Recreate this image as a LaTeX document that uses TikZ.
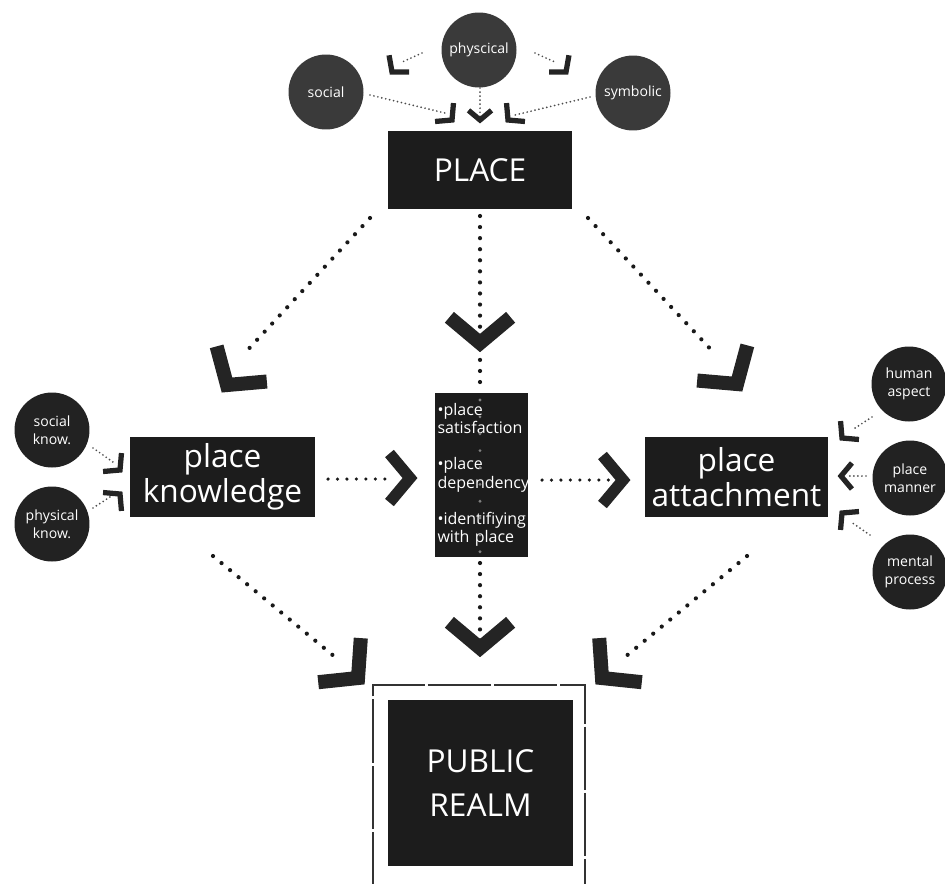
\documentclass[tikz,border=0pt]{standalone}
\usepackage{fontspec}
\setmainfont{Open Sans}
\usetikzlibrary{calc}
\definecolor{boxcol}{HTML}{1C1C1C}
\definecolor{topcirc}{HTML}{3A3A3A}
\definecolor{sidecirc}{HTML}{222222}
\definecolor{chevcol}{HTML}{242424}
\tikzset{
  panel/.style={fill=boxcol,text=white,inner sep=0pt,align=center,font=\fontsize{18}{20}\selectfont},
  bubble/.style={circle,fill=#1,text=white,minimum size=1.5cm,inner sep=0pt,align=center,font=\fontsize{8}{10}\selectfont},
  bigdots/.style={draw=black!90,line width=2.4pt,line cap=round,dash pattern=on 0pt off 6.3pt},
  meddots/.style={draw=black!90,line width=2pt,line cap=round,dash pattern=on 0pt off 5.4pt},
  greydots/.style={draw=black!50,line width=1.8pt,line cap=round,dash pattern=on 0pt off 9.6pt},
  finedots/.style={draw=black!70,line width=1.1pt,line cap=round,dash pattern=on 0pt off 2.3pt},
  chevbig/.style={draw=chevcol,line width=8pt,line join=miter},
  chevmed/.style={draw=chevcol,line width=6.5pt,line join=miter},
  chevsmall/.style={draw=chevcol,line width=3pt,line join=miter}
}
% chevron: tip, direction (y down), arm length
\newcommand{\chev}[4][chevbig]{\draw[#1] ($(#2)+(#3+130:#4)$) -- (#2) -- ($(#2)+(#3-130:#4)$);}

\begin{document}
\begin{tikzpicture}[x=0.02cm,y=-0.02cm]
	\useasboundingbox (0,0) rectangle (945,883);
	\clip (0,0) rectangle (945,883);
	% circles
	\node[bubble=topcirc] (phys) at (479,50) {physcical};
	\node[bubble=topcirc] (social) at (326,92) {social};
	\node[bubble=topcirc] (symb) at (633,93) {symbolic};
	\node[bubble=sidecirc] (sknow) at (52,430) {social\\know.};
	\node[bubble=sidecirc] (pknow) at (52,524) {physical\\know.};
	\node[bubble=sidecirc] (human) at (909,384) {human\\aspect};
	\node[bubble=sidecirc] (manner) at (910,478) {place\\manner};
	\node[bubble=sidecirc] (mental) at (910,572) {mental\\process};
	% boxes
	\node[panel,minimum width=3.7cm,minimum height=1.56cm] (place) at (480,170) {PLACE};
	\node[panel,minimum width=3.7cm,minimum height=1.6cm] (know) at (222.5,477) {place\\knowledge};
	\node[panel,minimum width=3.66cm,minimum height=1.6cm] (attach) at (736.5,477) {place\\attachment};
	\node[panel,minimum width=1.86cm,minimum height=3.28cm,text width=1.76cm,align=left,
		font=\fontsize{9.1}{10.5}\selectfont] (mid) at (481.5,475)
		{•place\\satisfaction\\[10pt]•place\\dependency\\[10pt]•identifiying\\with place};
	\node[panel,minimum width=3.7cm,minimum height=3.32cm,font=\fontsize{18}{25}\selectfont] (realm) at (480.5,783) {PUBLIC\\REALM};
	\draw[black!80,line width=0.8pt,dash pattern=on 36pt off 1.7pt] (373,895) -- (373,685) -- (585,685) -- (585,895);
	% line ends
	\coordinate (pk1) at (370,218); \coordinate (pk2) at (243,355); \coordinate (tpk) at (227,385);
	\coordinate (pa1) at (588,218); \coordinate (pa2) at (716,355); \coordinate (tpa) at (737,384);
	\coordinate (pm1) at (480,216); \coordinate (pm2) at (480,390); \coordinate (tpm) at (480,343);
	\coordinate (pm3) at (480,400); \coordinate (pm4) at (480,552);
	\coordinate (mr1) at (480,563); \coordinate (mr2) at (480,650); \coordinate (tmr) at (480,648);
	\coordinate (kr1) at (213,556); \coordinate (kr2) at (335,657); \coordinate (tkr) at (358,678);
	\coordinate (ar1) at (747,556); \coordinate (ar2) at (625,657); \coordinate (tar) at (602,678);
	\coordinate (km1) at (328,479); \coordinate (km2) at (392,479); \coordinate (tkm) at (410,478);
	\coordinate (ma1) at (542,480); \coordinate (ma2) at (610,480); \coordinate (tma) at (623,480);
	% main dotted lines
	\draw[bigdots] (pk1) -- (pk2);
	\draw[bigdots] (pa1) -- (pa2);
	\draw[bigdots] (pm1) -- (pm2);
	\draw[greydots] (pm3) -- (pm4);
	\draw[bigdots] (mr1) -- (mr2);
	\draw[bigdots] (kr1) -- (kr2);
	\draw[bigdots] (ar1) -- (ar2);
	\draw[meddots] (km1) -- (km2);
	\draw[meddots] (ma1) -- (ma2);
	\chev{tpk}{125}{40}
	\chev{tpa}{55}{40}
	\chev{tpm}{90}{40}
	\chev{tmr}{90}{40}
	\chev{tkr}{44}{40}
	\chev{tar}{136}{40}
	\chev[chevmed]{tkm}{0}{32}
	\chev[chevmed]{tma}{0}{32}
	% small ones
	\coordinate (a1) at (422,53); \coordinate (a2) at (400,63); \coordinate (ta) at (392,72);
	\coordinate (b1) at (535,53); \coordinate (b2) at (557,63); \coordinate (tb) at (566,72);
	\coordinate (c1) at (370,95); \coordinate (c2) at (445,113); \coordinate (tc) at (452,120);
	\coordinate (d1) at (480,88); \coordinate (d2) at (480,117); \coordinate (td) at (480,120);
	\coordinate (e1) at (590,97); \coordinate (e2) at (515,115); \coordinate (te) at (508,120);
	\coordinate (f1) at (93,448); \coordinate (f2) at (113,462); \coordinate (tf) at (120,470);
	\coordinate (g1) at (93,508); \coordinate (g2) at (113,495); \coordinate (tg) at (120,494);
	\coordinate (h1) at (872,417); \coordinate (h2) at (852,430); \coordinate (th) at (842,438);
	\coordinate (i1) at (866,476); \coordinate (i2) at (849,476); \coordinate (ti) at (841,476);
	\coordinate (j1) at (870,535); \coordinate (j2) at (851,522); \coordinate (tj) at (842,513);
	\foreach \s/\e in {a1/a2,b1/b2,c1/c2,d1/d2,e1/e2,f1/f2,g1/g2,h1/h2,i1/i2,j1/j2}
		\draw[finedots] (\s) -- (\e);
	\chev[chevsmall]{ta}{130}{17}
	\chev[chevsmall]{tb}{50}{17}
	\chev[chevsmall]{tc}{45}{17}
	\chev[chevsmall]{td}{90}{15}
	\chev[chevsmall]{te}{135}{17}
	\chev[chevsmall]{tf}{45}{17}
	\chev[chevsmall]{tg}{-45}{17}
	\chev[chevsmall]{th}{135}{17}
	\chev[chevsmall]{ti}{180}{17}
	\chev[chevsmall]{tj}{225}{17}
\end{tikzpicture}
\end{document}
